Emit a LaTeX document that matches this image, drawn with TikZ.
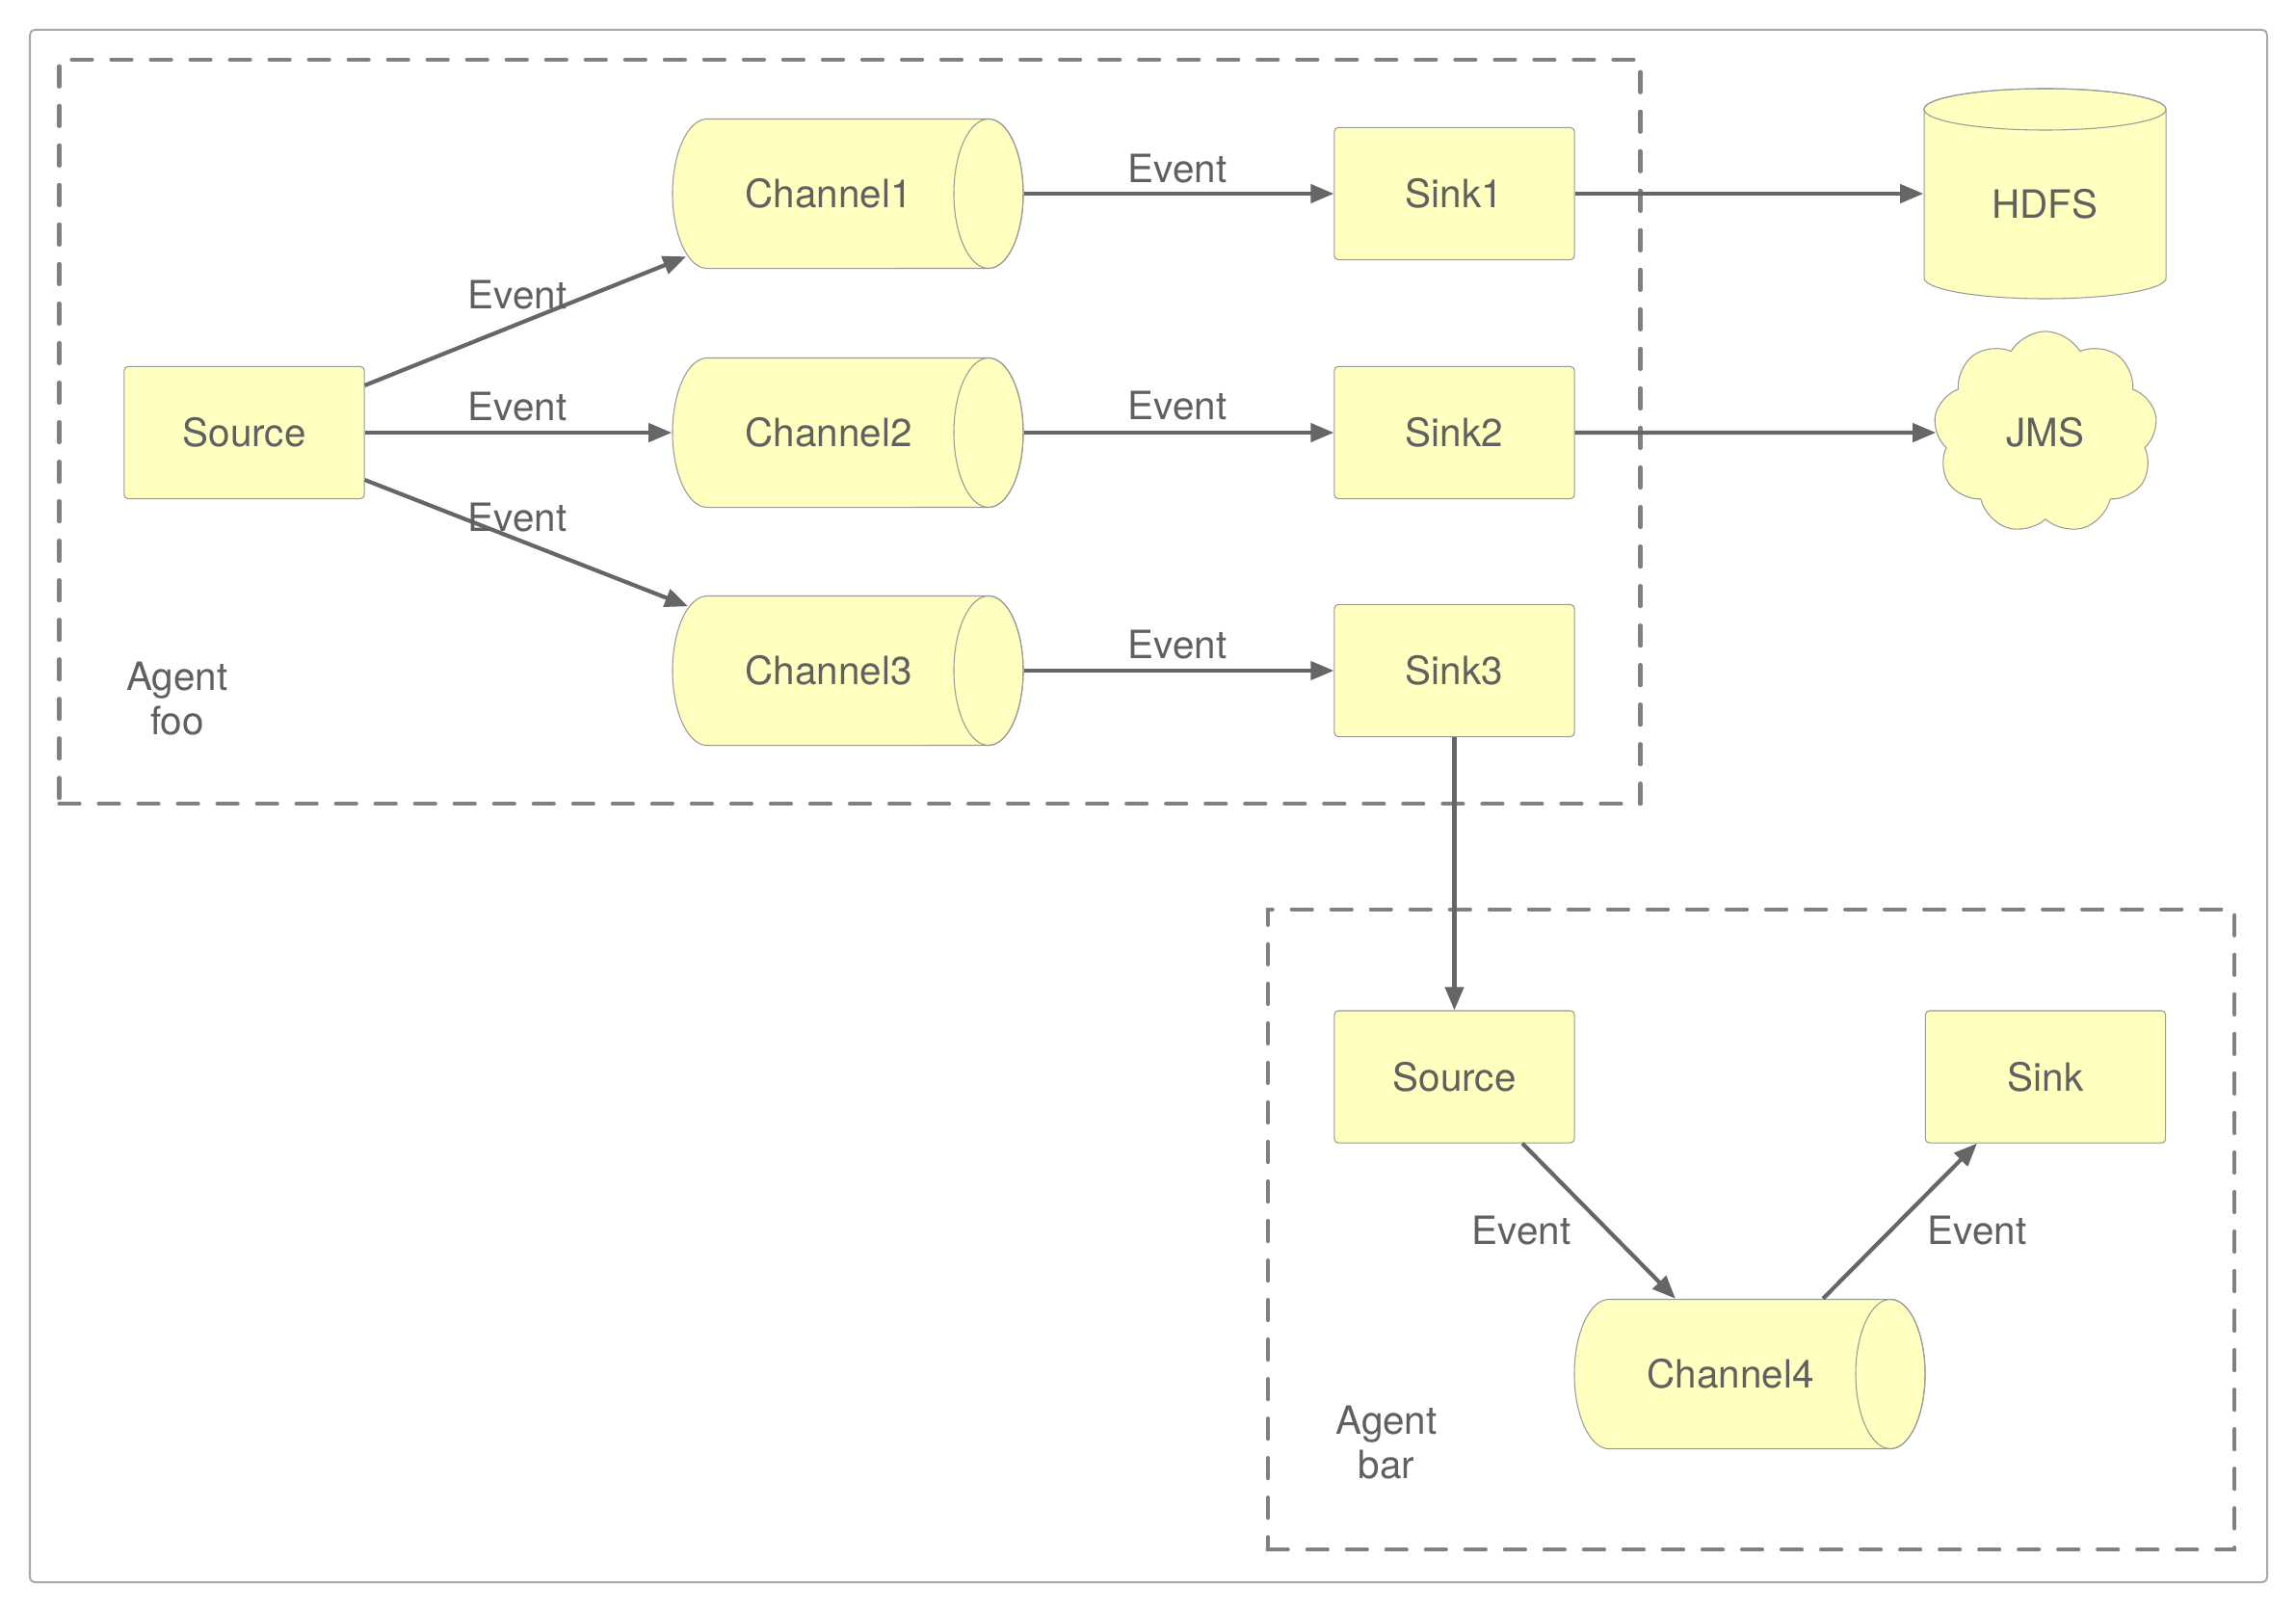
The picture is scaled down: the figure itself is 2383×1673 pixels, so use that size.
\documentclass[tikz,border=0pt]{standalone}
\usepackage{fontspec}
\setmainfont{TeX Gyre Heros}
\usetikzlibrary{arrows.meta,shapes.symbols}
\definecolor{nfill}{HTML}{FFFFC0}
\definecolor{nline}{HTML}{999999}
\definecolor{tcol}{HTML}{606060}
\definecolor{acol}{HTML}{666666}
\definecolor{dcol}{HTML}{808080}
\definecolor{fcol}{HTML}{AAAAAA}
\newcommand\chanshape[2]{%
  \begin{scope}[shift={(#1,#2)}]
    \path[chanbody] (146,-77.5) -- (-146,-77.5)
      arc[start angle=90,end angle=270,x radius=0.36cm,y radius=0.775cm]
      -- (146,77.5)
      arc[start angle=-90,end angle=90,x radius=0.36cm,y radius=0.775cm] -- cycle;
    \draw[draw=nline, line width=0.3pt] (146,0) ellipse[x radius=0.36cm, y radius=0.775cm];
  \end{scope}}
\begin{document}
\begin{tikzpicture}[x=0.01cm,y=-0.01cm, font=\fontsize{11.5}{13}\selectfont, text=tcol,
  box/.style={draw=nline, line width=0.3pt, fill=nfill, rounded corners=0.04cm,
    minimum width=2.49cm, minimum height=1.37cm, inner sep=0pt},
  chanbody/.style={draw=nline, line width=0.3pt, fill=nfill},
  anchorbox/.style={minimum width=3.64cm, minimum height=1.55cm, inner sep=0pt},
  conn/.style={draw=acol, line width=0.042cm, -{Triangle[length=0.24cm,width=0.19cm]}},
  agentbox/.style={draw=dcol, line width=0.042cm, dash pattern=on 0.21cm off 0.2cm,
    line cap=round, inner sep=0pt},
]
\useasboundingbox (0,0) rectangle (2383,1673);
\draw[fcol, line width=0.02cm, rounded corners=0.05cm] (31,31) rectangle (2353,1642);

% agent containers
\node[agentbox, minimum width=16.40cm, minimum height=7.72cm] (foo) at (882,448) {};
\node[agentbox, minimum width=10.03cm, minimum height=6.64cm] (bar) at (1817.5,1276) {};
\node[align=center] (foolbl) at (184,725) {Agent\\foo};
\node[align=center] (barlbl) at (1439,1497) {Agent\\bar};

% channels
\chanshape{880}{201}
\chanshape{880}{449}
\chanshape{880}{696}
\chanshape{1816}{1426}
\node[anchorbox] (c1) at (880,201) {};
\node[anchorbox] (c2) at (880,449) {};
\node[anchorbox] (c3) at (880,696) {};
\node[anchorbox] (c4) at (1816,1426) {};
\node (c1t) at (860,201) {Channel1};
\node (c2t) at (860,449) {Channel2};
\node (c3t) at (860,696) {Channel3};
\node (c4t) at (1796,1426) {Channel4};

% boxes
\node[box] (src) at (253.5,449) {Source};
\node[box] (s1) at (1509.5,201) {Sink1};
\node[box] (s2) at (1509.5,449) {Sink2};
\node[box] (s3) at (1509.5,696) {Sink3};
\node[box] (bsrc) at (1509.5,1117.5) {Source};
\node[box] (bsink) at (2123,1117.5) {Sink};

% HDFS
\begin{scope}[shift={(2122.5,201)}]
  \path[chanbody] (-125.5,-87.5) -- (-125.5,87.5)
    arc[start angle=180,end angle=360,x radius=1.255cm,y radius=0.215cm]
    -- (125.5,-87.5)
    arc[start angle=0,end angle=180,x radius=1.255cm,y radius=0.215cm] -- cycle;
  \draw[draw=nline, line width=0.3pt] (0,-87.5) ellipse[x radius=1.255cm, y radius=0.215cm];
\end{scope}
\node[minimum width=2.51cm, minimum height=2.18cm, inner sep=0pt] (hdfs) at (2122.5,201) {};
\node (hdfst) at (2122.5,212) {HDFS};

% JMS
\node[cloud, cloud puffs=9, cloud puff arc=120, aspect=1.1, draw=nline, line width=0.3pt,
  fill=nfill, minimum width=2.32cm, minimum height=2.1cm, inner sep=0pt] (jms) at (2123,449) {JMS};

% connectors
\draw[conn] ([yshift=0.49cm]src.east) -- ([xshift=0.15cm,yshift=0.13cm]c1.south west);
\draw[conn] (src.east) -- (c2.west);
\draw[conn] ([yshift=-0.49cm]src.east) -- ([xshift=0.17cm,yshift=-0.115cm]c3.north west);
\draw[conn] (c1.east) -- (s1.west);
\draw[conn] (c2.east) -- (s2.west);
\draw[conn] (c3.east) -- (s3.west);
\draw[conn] (s1.east) -- (hdfs.west);
\draw[conn] (s2.east) -- (jms.west);
\draw[conn] (s3.south) -- (bsrc.north);
\draw[conn] ([xshift=0.705cm]bsrc.south) -- ([xshift=-0.77cm]c4.north);
\draw[conn] ([xshift=0.76cm]c4.north) -- ([xshift=-0.71cm]bsink.south);

% labels
\node (e1) at (537,306) {Event};
\node (e2) at (537,422) {Event};
\node (e3) at (537,537) {Event};
\node (e4) at (1222,175) {Event};
\node (e5) at (1222,421) {Event};
\node (e6) at (1222,669) {Event};
\node (e7) at (1579,1277) {Event};
\node (e8) at (2052,1277) {Event};
\end{tikzpicture}
\end{document}
